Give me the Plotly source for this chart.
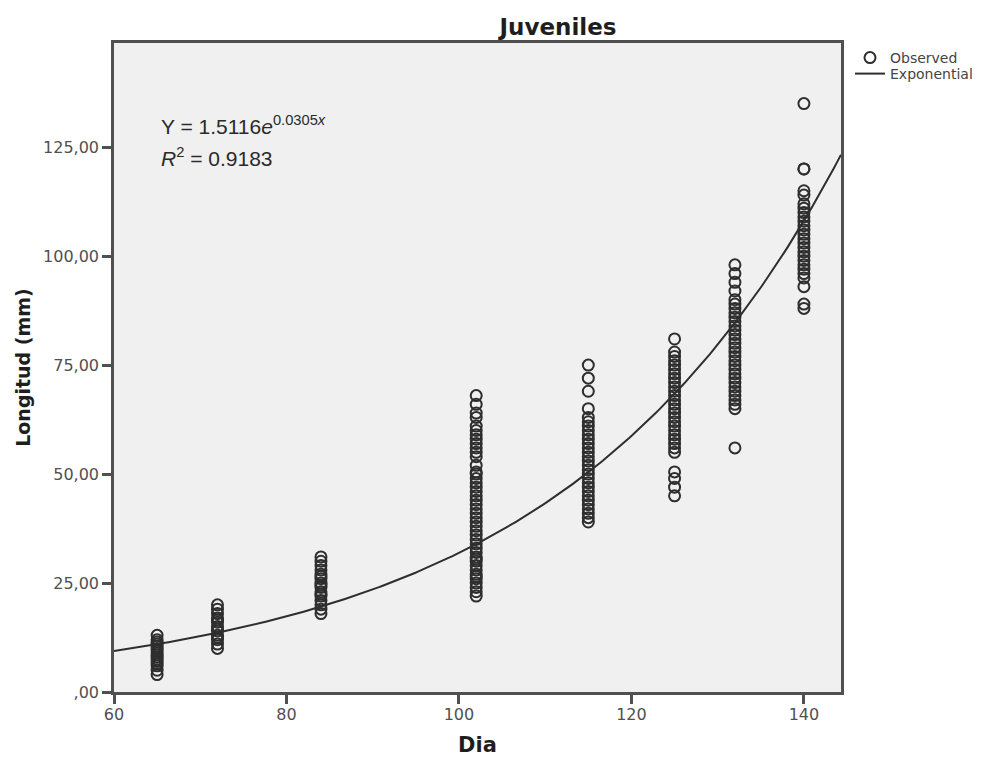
import numpy as np
import plotly.graph_objects as go

# ---- data ----
days = [65, 72, 84, 102, 115, 125, 132, 140]
lengths = {
    65: [4, 5, 6, 6.5, 7, 7.5, 8, 8.5, 9, 9.5, 10, 10.5, 11, 11.5, 12, 13],
    72: [10, 11, 12, 12.5, 13, 14, 14.5, 15, 16, 16.5, 17, 18, 19, 20],
    84: [18, 19, 20, 21, 22, 22.5, 23, 24, 24.5, 25, 26, 26.5, 27, 28, 29, 30, 31],
    102: [22, 23, 24, 25, 26, 26.5, 27, 28, 29, 30, 30.5, 31, 32, 33, 34, 35, 36,
          37, 38, 39, 40, 41, 42, 43, 44, 45, 46, 47, 48, 49, 50, 50.5, 52, 54,
          55, 56, 57, 58, 59, 60, 61, 63, 64, 66, 68],
    115: [39, 40, 41, 42, 43, 44, 45, 46, 47, 48, 49, 50, 51, 52, 53, 54, 55, 56,
          57, 58, 59, 60, 61, 62, 63, 65, 69, 72, 75],
    125: [45, 47, 49, 50.5, 55, 56, 57, 58, 59, 60, 61, 62, 63, 64, 65, 66, 67, 68,
          69, 70, 71, 72, 73, 74, 75, 76, 77, 78, 81],
    132: [56, 65, 66, 67, 68, 69, 70, 71, 72, 73, 74, 75, 76, 77, 78, 79, 80, 81,
          82, 83, 84, 85, 86, 87, 88, 89, 90, 92, 94, 96, 98],
    140: [88, 89, 93, 95, 96, 97, 98, 99, 100, 101, 102, 103, 104, 105, 106, 107,
          108, 109, 110, 111, 112, 114, 115, 120, 120, 135],
}

# exponential fit stated on the chart: Y = a * e^(b x)
fit_a = 1.5116
fit_b = 0.0305
fit_r2 = 0.9183

x_range = [60, 144.3]
y_range = [0, 148.9]
x_ticks = [60, 80, 100, 120, 140]
y_ticks = [0, 25, 50, 75, 100, 125]
y_tick_labels = [",00", "25,00", "50,00", "75,00", "100,00", "125,00"]

# ---- build ----
obs_x = [d for d in days for _ in lengths[d]]
obs_y = [v for d in days for v in lengths[d]]

curve_x = np.linspace(x_range[0], x_range[1], 300)
curve_y = fit_a * np.exp(fit_b * curve_x)

ink = "#2e2e2e"
fig = go.Figure()
fig.add_trace(go.Scatter(
    x=obs_x, y=obs_y, mode="markers", name="Observed", legend="legend",
    marker=dict(symbol="circle-open", size=11, color=ink, line=dict(width=2, color=ink)),
))
fig.add_trace(go.Scatter(
    x=curve_x, y=curve_y, mode="lines", name="Exponential", legend="legend2",
    line=dict(color=ink, width=2),
))

axis_common = dict(
    automargin=False,
    showline=True, mirror=True, linecolor="#505050", linewidth=2.5,
    ticks="outside", ticklen=9, tickwidth=2.5, tickcolor="#505050",
    showgrid=False, zeroline=False,
    tickfont=dict(family="DejaVu Sans", size=16, color="#505050"),
)

legend_font = dict(family="DejaVu Sans", size=14, color="#444444")
leg_x = (850 - 114) / 727

fig.update_layout(
    width=996, height=760,
    margin=dict(l=114, r=155, t=43, b=68),
    paper_bgcolor="white", plot_bgcolor="#f0f0f0",
    title=dict(text="<b>Juveniles</b>", x=558 / 996, xanchor="center", y=1 - 27 / 760, yanchor="middle",
               font=dict(family="DejaVu Sans", size=23, color="#1e1e1e")),
    showlegend=True,
    legend=dict(x=leg_x, xanchor="left", y=(692 - 58) / 649, yanchor="middle",
                font=legend_font, itemwidth=30, bgcolor="rgba(0,0,0,0)"),
    legend2=dict(x=leg_x, xanchor="left", y=(692 - 74) / 649, yanchor="middle",
                 font=legend_font, itemwidth=30, bgcolor="rgba(0,0,0,0)"),
    xaxis=dict(range=x_range, tickvals=x_ticks, ticktext=[str(t) for t in x_ticks],
               ticklabelstandoff=-3,
               title=dict(text="<b>Dia</b>", standoff=15,
                          font=dict(family="DejaVu Sans", size=21, color="#1e1e1e")),
               **axis_common),
    yaxis=dict(range=y_range, tickvals=y_ticks, ticktext=y_tick_labels,
               title=dict(text="<b>Longitud (mm)</b>", standoff=8,
                          font=dict(family="DejaVu Sans", size=19, color="#1e1e1e")),
               **axis_common),
    annotations=[
        dict(xref="paper", yref="paper", x=(159 - 114) / 727, y=(692 - 125) / 649,
             xanchor="left", yanchor="middle", showarrow=False,
             text=f"Y = {fit_a}<i>e</i><sup>{fit_b}<i>x</i></sup>",
             font=dict(family="Liberation Sans", size=21, color="#2a2a2a")),
        dict(xref="paper", yref="paper", x=(159 - 114) / 727, y=(692 - 157) / 649,
             xanchor="left", yanchor="middle", showarrow=False,
             text=f"<i>R</i><sup>2</sup> = {fit_r2}",
             font=dict(family="Liberation Sans", size=21, color="#2a2a2a")),
    ],
)

fig.write_html("out.html")
